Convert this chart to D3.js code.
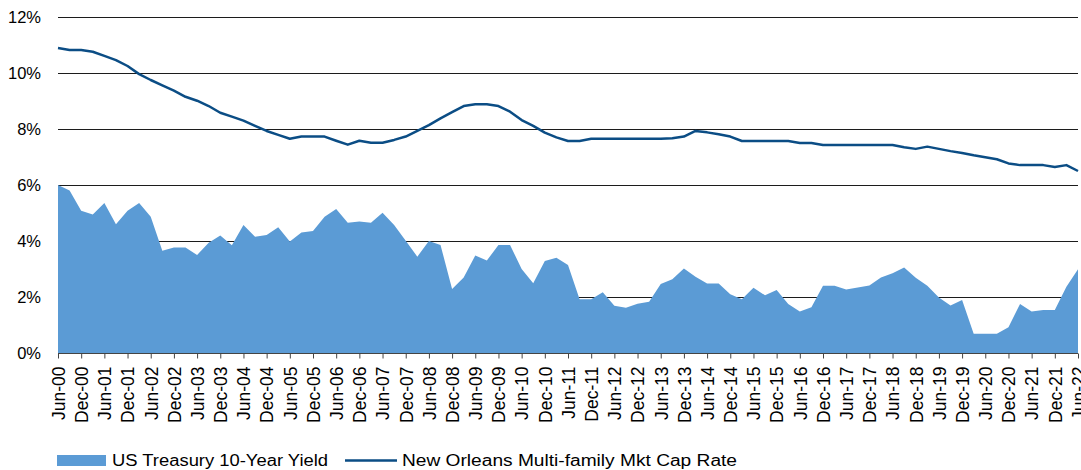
<!DOCTYPE html>
<html>
<head>
<meta charset="utf-8">
<script src="https://cdn.jsdelivr.net/npm/d3@7"></script>
<style>
  body { margin: 0; background: #fff; }
  text { font-family: "Liberation Sans", Arial, sans-serif; fill: #000; }
</style>
</head>
<body>
<div id="chart"></div>
<script>
// tick labels, every second quarter
var tickLabels = ["Jun-00","Dec-00","Jun-01","Dec-01","Jun-02","Dec-02","Jun-03","Dec-03","Jun-04","Dec-04",
  "Jun-05","Dec-05","Jun-06","Dec-06","Jun-07","Dec-07","Jun-08","Dec-08","Jun-09","Dec-09",
  "Jun-10","Dec-10","Jun-11","Dec-11","Jun-12","Dec-12","Jun-13","Dec-13","Jun-14","Dec-14",
  "Jun-15","Dec-15","Jun-16","Dec-16","Jun-17","Dec-17","Jun-18","Dec-18","Jun-19","Dec-19",
  "Jun-20","Dec-20","Jun-21","Dec-21","Jun-22"];

// quarterly values, Jun-00 .. Jun-22
var treasury = [6.0, 5.8, 5.08, 4.95, 5.36, 4.6, 5.08, 5.36, 4.87, 3.65,
  3.77, 3.77, 3.5, 3.94, 4.2, 3.85, 4.57, 4.15, 4.21, 4.49,
  3.98, 4.3, 4.36, 4.87, 5.14, 4.65, 4.7, 4.65, 5.01, 4.57,
  4.01, 3.44, 4.0, 3.86, 2.29, 2.7, 3.48, 3.3, 3.86, 3.86,
  3.0, 2.49, 3.29, 3.4, 3.14, 1.92, 1.92, 2.17, 1.69, 1.62,
  1.76, 1.83, 2.46, 2.63, 3.02, 2.72, 2.48, 2.48, 2.1, 1.92,
  2.33, 2.06, 2.25, 1.75, 1.48, 1.63, 2.4, 2.4, 2.27, 2.34,
  2.41, 2.7, 2.85, 3.05, 2.69, 2.4, 1.98, 1.7, 1.89, 0.69,
  0.69, 0.69, 0.92, 1.75, 1.48, 1.54, 1.54, 2.37, 2.99];

var capRate = [10.89, 10.82, 10.82, 10.76, 10.61, 10.46, 10.25, 9.96, 9.75, 9.56,
  9.37, 9.15, 9.01, 8.82, 8.58, 8.44, 8.30, 8.11, 7.93, 7.79,
  7.65, 7.73, 7.73, 7.73, 7.58, 7.44, 7.58, 7.51, 7.51, 7.61,
  7.73, 7.93, 8.14, 8.38, 8.6, 8.82, 8.88, 8.88, 8.82, 8.62,
  8.32, 8.11, 7.87, 7.7, 7.57, 7.57, 7.65, 7.65, 7.65, 7.65,
  7.65, 7.65, 7.65, 7.67, 7.73, 7.93, 7.88, 7.81, 7.73, 7.57,
  7.57, 7.57, 7.57, 7.57, 7.5, 7.5, 7.43, 7.43, 7.43, 7.43,
  7.43, 7.43, 7.43, 7.35, 7.29, 7.37, 7.29, 7.21, 7.14, 7.06,
  6.99, 6.92, 6.77, 6.71, 6.71, 6.71, 6.64, 6.71, 6.5];

var yTicks = [0, 2, 4, 6, 8, 10, 12];
var seriesNames = ["US Treasury 10-Year Yield", "New Orleans Multi-family Mkt Cap Rate"];

var svgWidth = 1081, svgHeight = 470;
var plotLeft = 58, plotRight = 1078, plotTop = 17, plotBottom = 353;

var svg = d3.select("#chart").append("svg")
  .attr("width", svgWidth)
  .attr("height", svgHeight);

var x = d3.scaleLinear().domain([0, treasury.length - 1]).range([plotLeft, plotRight]);
var y = d3.scaleLinear().domain([0, 12]).range([plotBottom, plotTop]);

// gridlines (area sits on top of them)
svg.append("g").selectAll("line")
  .data(yTicks.filter(d => d > 0))
  .enter().append("line")
  .attr("x1", plotLeft).attr("x2", plotRight)
  .attr("y1", d => y(d) + 0.5).attr("y2", d => y(d) + 0.5)
  .attr("stroke", "#1c1c1c")
  .attr("stroke-width", 1);

// y labels
svg.append("g").selectAll("text")
  .data(yTicks)
  .enter().append("text")
  .attr("x", 41)
  .attr("y", d => y(d) + 6)
  .attr("text-anchor", "end")
  .attr("font-size", "16.5px")
  .text(d => d + "%");

// treasury area
var area = d3.area()
  .x((d, i) => x(i))
  .y0(y(0))
  .y1(d => y(d));
svg.append("path")
  .datum(treasury)
  .attr("d", area)
  .attr("fill", "#5b9bd5");

// cap rate line
var line = d3.line()
  .x((d, i) => x(i))
  .y(d => y(d));
svg.append("path")
  .datum(capRate)
  .attr("d", line)
  .attr("fill", "none")
  .attr("stroke", "#0b4d85")
  .attr("stroke-width", 2.5)
  .attr("stroke-linejoin", "round");

// x axis
var xAxis = d3.axisBottom(x)
  .tickValues(d3.range(0, treasury.length, 2))
  .tickSize(5)
  .tickFormat(d => tickLabels[d / 2]);
var gx = svg.append("g")
  .attr("transform", `translate(0, ${plotBottom + 0.5})`)
  .call(xAxis);
gx.select(".domain").attr("stroke", "#444").attr("d", `M${plotLeft},0H${plotRight}`);
gx.selectAll(".tick line").attr("stroke", "#444");
gx.selectAll(".tick text")
  .attr("font-size", "17.5px")
  .attr("font-family", "'Liberation Sans', Arial, sans-serif")
  .attr("fill", "#000")
  .attr("text-anchor", "end")
  .attr("transform", "rotate(-90)")
  .attr("x", -13)
  .attr("y", 0)
  .attr("dy", "0.36em");

// legend
var leg = svg.append("g");
leg.append("rect")
  .attr("x", 57).attr("y", 455)
  .attr("width", 49).attr("height", 11)
  .attr("fill", "#5b9bd5");
leg.append("text")
  .attr("x", 112).attr("y", 466)
  .attr("font-size", "16px")
  .attr("textLength", 216)
  .attr("lengthAdjust", "spacingAndGlyphs")
  .text(seriesNames[0]);
leg.append("line")
  .attr("x1", 345).attr("x2", 397)
  .attr("y1", 460.5).attr("y2", 460.5)
  .attr("stroke", "#0b4d85")
  .attr("stroke-width", 2.5);
leg.append("text")
  .attr("x", 402).attr("y", 466)
  .attr("font-size", "16px")
  .attr("textLength", 335)
  .attr("lengthAdjust", "spacingAndGlyphs")
  .text(seriesNames[1]);
</script>
</body>
</html>
